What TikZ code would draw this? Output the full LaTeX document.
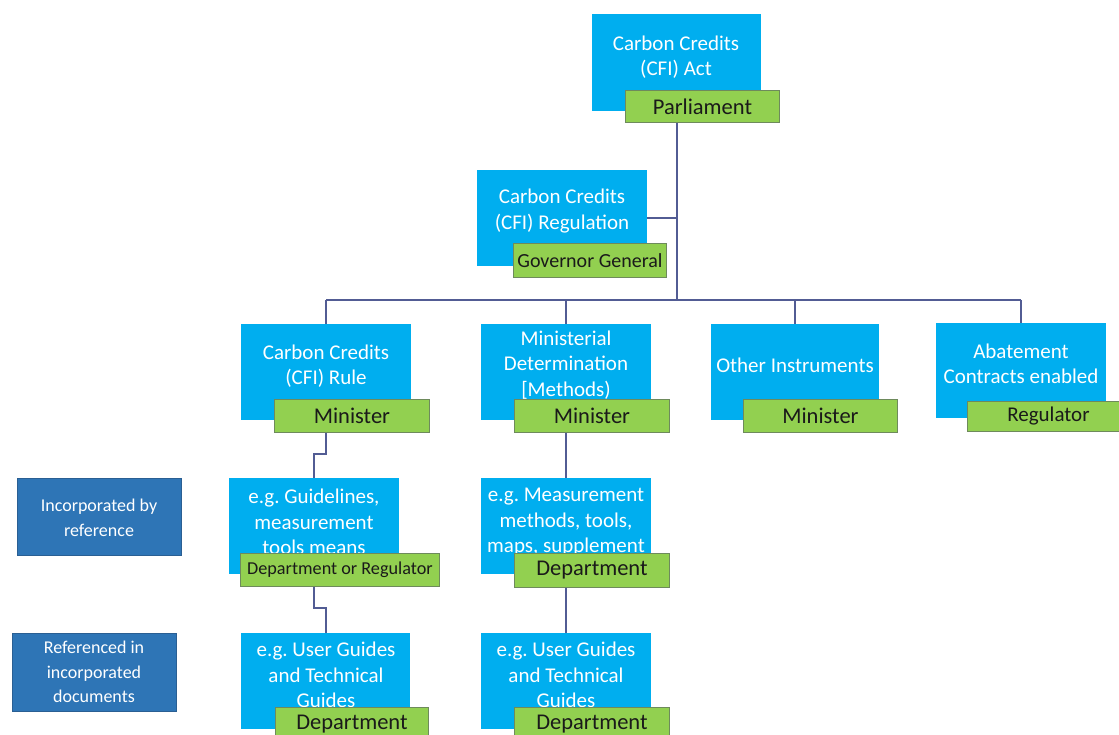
\documentclass[tikz,border=0pt]{standalone}
\usepackage{fontspec}
\setmainfont{Carlito}
\frenchspacing
\definecolor{cfiblue}{HTML}{00AEEF}
\definecolor{cfigreen}{HTML}{92D050}
\definecolor{cfigreenedge}{HTML}{6E8A5C}
\definecolor{lblblue}{HTML}{2E75B6}
\definecolor{lbledge}{HTML}{2A5F93}
\definecolor{linecol}{HTML}{525C94}
\definecolor{darktext}{HTML}{1A1A1A}
\tikzset{
  bluebox/.style={fill=cfiblue, inner sep=0pt, anchor=north west},
  greenbox/.style={fill=cfigreen, draw=cfigreenedge, line width=0.9pt, inner sep=0pt, anchor=north west,
     text=darktext, font=\fontsize{22.5}{26}\selectfont},
  labelbox/.style={fill=lblblue, draw=lbledge, line width=0.8pt, inner sep=0pt, anchor=north west},
  bluetext/.style={text=white, align=center, inner sep=0pt, font=\fontsize{21}{25.5}\selectfont},
  labeltext/.style={text=white, align=center, inner sep=0pt, font=\fontsize{18}{24.5}\selectfont},
  conn/.style={draw=linecol, line width=1.6pt}
}
\begin{document}
\begin{tikzpicture}[x=1pt,y=-1pt]
\useasboundingbox (0,0) rectangle (1119,735);
\fill[white] (0,0) rectangle (1119,735);

% ---------- blue boxes ----------
\node[bluebox, minimum width=169pt, minimum height=97pt] (act) at (592,14) {};
\node[bluebox, minimum width=170pt, minimum height=96pt] (reg) at (477,170) {};
\node[bluebox, minimum width=170pt, minimum height=96pt] (rule) at (241,324) {};
\node[bluebox, minimum width=170pt, minimum height=96pt] (md) at (481,324) {};
\node[bluebox, minimum width=168pt, minimum height=96pt] (oi) at (711,324) {};
\node[bluebox, minimum width=170pt, minimum height=95pt] (ab) at (936,323) {};
\node[bluebox, minimum width=170pt, minimum height=96pt] (gl) at (229,478) {};
\node[bluebox, minimum width=170pt, minimum height=96pt] (mm) at (481,478) {};
\node[bluebox, minimum width=169pt, minimum height=96pt] (ug1) at (241,633) {};
\node[bluebox, minimum width=170pt, minimum height=96pt] (ug2) at (481,633) {};

% ---------- side label boxes ----------
\node[labelbox, minimum width=164pt, minimum height=77pt] (lab1) at (17,478) {};
\node[labelbox, minimum width=164pt, minimum height=78pt] (lab2) at (12,633) {};
\node[labeltext] (lab1t) at (99,518) {Incorporated by\\reference};
\node[labeltext] (lab2t) at (94,672) {Referenced in\\incorporated\\documents};

% ---------- blue texts ----------
\node[bluetext] (actt) at (676,57) {Carbon Credits\\(CFI) Act};
\node[bluetext] (regt) at (562,211) {Carbon Credits\\(CFI) Regulation};
\node[bluetext] (rulet) at (326,366) {Carbon Credits\\(CFI) Rule};
\node[bluetext] (mdt) at (566,365) {Ministerial\\Determination\\{[}Methods)};
\node[bluetext] (oit) at (795,365) {Other Instruments};
\node[bluetext] (abt) at (1021,364) {Abatement\\Contracts enabled};
\node[bluetext] (glt) at (314,522) {e.g. Guidelines,\\measurement\\tools means};
\node[bluetext] (mmt) at (566,522) {e.g. Measurement\\methods, tools,\\maps, supplement};
\node[bluetext] (ug1t) at (326,675) {e.g. User Guides\\and Technical\\Guides};
\node[bluetext] (ug2t) at (566,675) {e.g. User Guides\\and Technical\\Guides};

% ---------- green boxes ----------
\node[greenbox, minimum width=154pt, minimum height=32pt] (parl) at (625,90) {Parliament};
\node[greenbox, minimum width=153pt, minimum height=34pt, font=\fontsize{20}{24}\selectfont] (gg) at (513,243) {Governor General};
\node[greenbox, minimum width=155pt, minimum height=33pt] (min1) at (274,399) {Minister};
\node[greenbox, minimum width=155pt, minimum height=33pt] (min2) at (514,399) {Minister};
\node[greenbox, minimum width=154pt, minimum height=33pt] (min3) at (743,399) {Minister};
\node[greenbox, minimum width=162pt, minimum height=30pt, font=\fontsize{21}{24}\selectfont] (regr) at (967,401) {Regulator};
\node[greenbox, minimum width=199pt, minimum height=33pt, font=\fontsize{18.2}{22}\selectfont] (dor) at (240,553) {Department or Regulator};
\node[greenbox, minimum width=155pt, minimum height=34pt] (dep1) at (514,553) {Department};
\node[greenbox, minimum width=153pt, minimum height=33pt] (dep2) at (275,707) {Department};
\node[greenbox, minimum width=155pt, minimum height=33pt] (dep3) at (514,707) {Department};

% ---------- connectors ----------
\coordinate (busy) at (0,300);
\coordinate (jog1y) at (0,454);
\coordinate (jog2y) at (0,608);
\draw[conn] (parl.south -| act.south) -- (act.south |- busy);
\draw[conn] (reg.east) -- (reg.east -| act.south);
\draw[conn] (rule.north |- busy) -- (ab.north |- busy);
\draw[conn] (rule.north |- busy) -- (rule.north);
\draw[conn] (md.north |- busy) -- (md.north);
\draw[conn] (oi.north |- busy) -- (oi.north);
\draw[conn] (ab.north |- busy) -- (ab.north);
\draw[conn] (min1.south -| rule.south) -- (rule.south |- jog1y) -- (gl.north |- jog1y) -- (gl.north);
\draw[conn] (dor.south -| gl.south) -- (gl.south |- jog2y) -- (ug1.north |- jog2y) -- (ug1.north);
\draw[conn] (min2.south -| md.south) -- (mm.north);
\draw[conn] (dep1.south -| mm.south) -- (ug2.north);
\end{tikzpicture}
\end{document}
